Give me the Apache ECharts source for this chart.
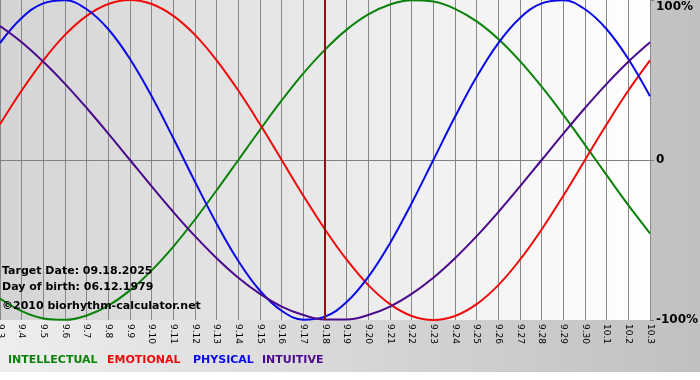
<!DOCTYPE html>
<html>
<head>
<meta charset="utf-8">
<script src="https://cdn.jsdelivr.net/npm/echarts@6/dist/echarts.min.js"></script>
<style>html,body{margin:0;padding:0;background:#fff}#c{width:700px;height:380px}</style>
</head>
<body>
<div id="c"></div>
<script>
var days = ['9.3','9.4','9.5','9.6','9.7','9.8','9.9','9.10','9.11','9.12','9.13','9.14','9.15','9.16','9.17','9.18','9.19','9.20','9.21','9.22','9.23','9.24','9.25','9.26','9.27','9.28','9.29','9.30','10.1','10.2','10.3'];
var intellectual = [-86.6,-94.5,-99.0,-99.9,-97.2,-91.0,-81.5,-69.0,-54.1,-37.2,-18.9,0,18.9,37.2,54.1,69.0,81.5,91.0,97.2,99.9,99.0,94.5,86.6,75.6,61.8,45.8,28.2,9.5,-9.5,-28.2,-45.8];
var emotional = [22.3,43.4,62.3,78.2,90.1,97.5,100,97.5,90.1,78.2,62.3,43.4,22.3,0,-22.3,-43.4,-62.3,-78.2,-90.1,-97.5,-100,-97.5,-90.1,-78.2,-62.3,-43.4,-22.3,0,22.3,43.4,62.3];
var physical = [73.1,88.8,97.9,99.8,94.2,81.7,63.1,39.8,13.6,-13.6,-39.8,-63.1,-81.7,-94.2,-99.8,-97.9,-88.8,-73.1,-52.0,-27.0,0,27.0,52.0,73.1,88.8,97.9,99.8,94.2,81.7,63.1,39.8];
var intuitive = [83.7,73.6,61.4,47.6,32.5,16.5,0,-16.5,-32.5,-47.6,-61.4,-73.6,-83.7,-91.6,-96.9,-99.7,-99.7,-96.9,-91.6,-83.7,-73.6,-61.4,-47.6,-32.5,-16.5,0,16.5,32.5,47.6,61.4,73.6];
var yTicks = {'100':'100%','0':'0','-100':'-100%'};
var targetDay = '9.18';
var infoLines = ['Target Date: 09.18.2025','Day of birth: 06.12.1979','\u00a92010 biorhythm-calculator.net'];
var legendNames = ['INTELLECTUAL','EMOTIONAL','PHYSICAL','INTUITIVE'];
var colors = ['#0a820a','#ee0a0a','#0a0ae6','#4a0a8c'];

var chart = echarts.init(document.getElementById('c'), null, {renderer:'canvas'});
function mkSeries(name, data, color){
  return {name:name, type:'line', data:data, smooth:0.4, symbol:'none',
    lineStyle:{color:color, width:2}, itemStyle:{color:color}, animation:false};
}
var series = [
  mkSeries(legendNames[0], intellectual, colors[0]),
  mkSeries(legendNames[1], emotional, colors[1]),
  mkSeries(legendNames[2], physical, colors[2]),
  mkSeries(legendNames[3], intuitive, colors[3])
];
series[0].markLine = {silent:true, symbol:'none', label:{show:false}, animation:false,
  lineStyle:{color:'#8a1414', width:2, type:'solid'}, data:[{xAxis:targetDay}]};

var legendX = [8, 107, 193, 262];
var graphics = [
  {type:'rect', z:-100, silent:true, shape:{x:0,y:0,width:700,height:380},
   style:{fill:new echarts.graphic.LinearGradient(0,0,1,0,[{offset:0,color:'#eeeeee'},{offset:1,color:'#c0c0c0'}])}},
  {type:'rect', z:-99, silent:true, shape:{x:0,y:372,width:700,height:8}, style:{fill:'#ffffff'}}
];
infoLines.forEach(function(t,i){
  graphics.push({type:'text', z:100, left:2, top:[266,282,301][i], style:{text:t, fill:'#000', font:'bold 11px "DejaVu Sans"'}});
});
legendNames.forEach(function(t,i){
  graphics.push({type:'text', z:100, left:legendX[i], top:355, style:{text:t, fill:colors[i], font:'bold 11px "DejaVu Sans"'}});
});

chart.setOption({
  animation:false,
  grid:{left:0, right:50, top:0, bottom:60, show:true, borderWidth:0, containLabel:false, outerBoundsMode:'none',
    backgroundColor:new echarts.graphic.LinearGradient(0,0,1,0,[{offset:0,color:'#d4d4d4'},{offset:1,color:'#ffffff'}])},
  graphic:graphics,
  xAxis:{type:'category', data:days, boundaryGap:false,
    axisLine:{lineStyle:{color:'#808080', width:1}},
    axisTick:{show:true, length:3, lineStyle:{color:'#808080'}},
    splitLine:{show:true, lineStyle:{color:'#888888', width:1}},
    axisLabel:{rotate:-90, interval:0, margin:4, color:'#000', fontSize:9, fontFamily:'DejaVu Sans'}},
  yAxis:{type:'value', position:'right', min:-100, max:100, interval:100,
    axisLine:{show:false},
    axisTick:{show:true, length:4, lineStyle:{color:'#808080'}},
    splitLine:{show:true, lineStyle:{color:['transparent','#888888','transparent'], width:1}},
    axisLabel:{margin:6, color:'#000', fontSize:12, fontWeight:'bold', fontFamily:'DejaVu Sans',
      formatter:function(v){ var s = yTicks[String(v)]; return v===100 ? '{top|'+s+'}' : s; },
      rich:{top:{padding:[14,0,0,0], fontSize:12, fontWeight:'bold', fontFamily:'DejaVu Sans', color:'#000'}}}},
  series:series
});
</script>
</body>
</html>
